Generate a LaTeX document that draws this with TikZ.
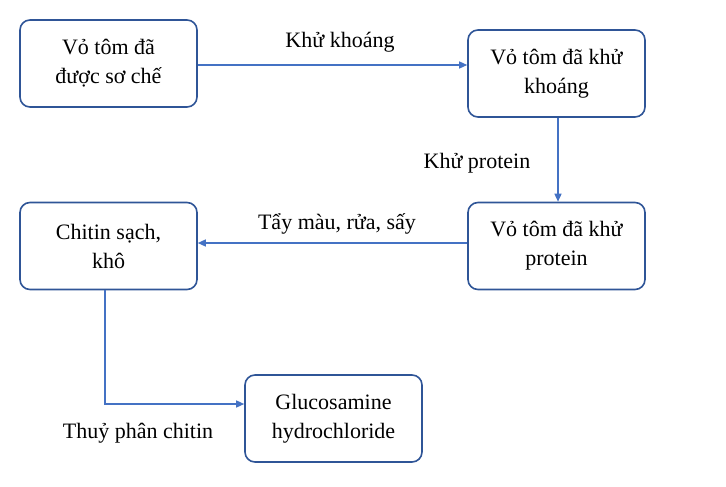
\documentclass[tikz,border=0pt]{standalone}
\usepackage{fontspec}
\setmainfont{Liberation Serif}
\usetikzlibrary{arrows.meta}
\definecolor{boxc}{HTML}{2F5597}
\definecolor{arrc}{HTML}{4472C4}
\begin{document}
\begin{tikzpicture}[x=1pt,y=-1pt,
  box/.style={draw=boxc,line width=1.6pt,rounded corners=10pt,minimum width=177pt,minimum height=87pt,inner sep=0pt,align=center,font=\fontsize{22}{29}\selectfont},
  conn/.style={draw=arrc,line width=1.4pt,-{Triangle[length=8pt,width=7pt]}},
  lbl/.style={font=\fontsize{22}{29}\selectfont}]
\useasboundingbox (0,0) rectangle (726,487);
\node[box] (a) at (108.5,63.5) {Vỏ tôm đã\\được sơ chế};
\node[box] (b) at (556.5,73.5) {Vỏ tôm đã khử\\khoáng};
\node[box] (c) at (108.5,246) {Chitin sạch,\\khô};
\node[box] (d) at (556.5,246) {Vỏ tôm đã khử\\protein};
\node[box] (e) at (333.5,418.5) {Glucosamine\\hydrochloride};
\draw[conn] (a.east|-0,65) -- (b.west|-0,65);
\draw[conn] (558,0|-b.south) -- (558,0|-d.north);
\draw[conn] (d.west|-0,243) -- (c.east|-0,243);
\coordinate (k) at (105,404);
\draw[conn] (105,0|-c.south) -- (k) -- (e.west|-k);
\node[lbl] (l1) at (340,42) {Khử khoáng};
\node[lbl] (l2) at (477,163) {Khử protein};
\node[lbl] (l3) at (337,224) {Tẩy màu, rửa, sấy};
\node[lbl] (l4) at (138,433) {Thuỷ phân chitin};
\end{tikzpicture}
\end{document}
